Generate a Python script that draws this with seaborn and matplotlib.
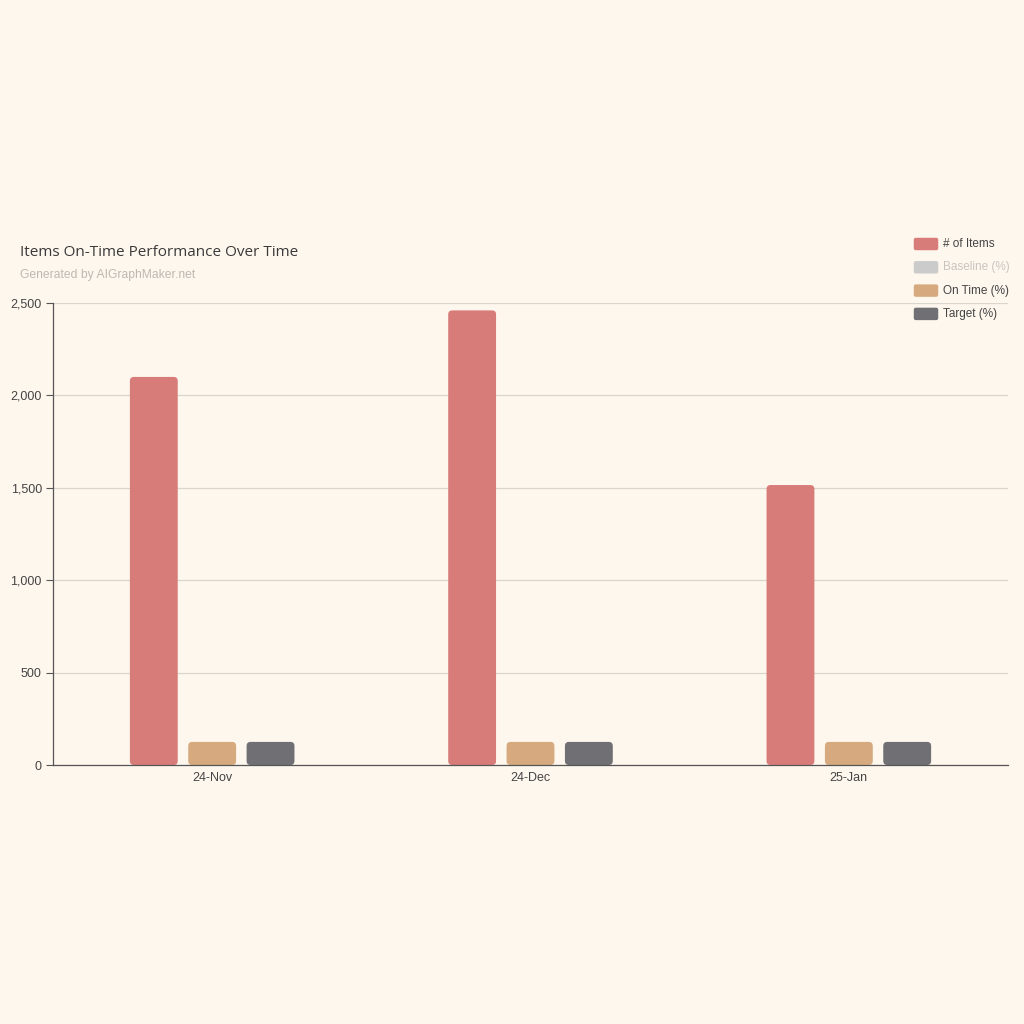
import matplotlib
matplotlib.use("Agg")
import matplotlib.pyplot as plt
from matplotlib.patches import FancyBboxPatch
import pandas as pd
import seaborn as sns

# data
months = ["24-Nov", "24-Dec", "25-Jan"]
n_items = [2100, 2460, 1515]
on_time = [125, 125, 125]
target = [125, 125, 125]

series_names = ["# of Items", "Baseline (%)", "On Time (%)", "Target (%)"]
series_colors = ["#D87C7A", "#CBCBCB", "#D6AA7E", "#6F6F74"]
hidden = ["Baseline (%)"]

bg = "#FEF7EE"

df = pd.DataFrame({
    "month": months * 3,
    "series": ["# of Items"] * 3 + ["On Time (%)"] * 3 + ["Target (%)"] * 3,
    "value": n_items + on_time + target,
})

sns.set_theme(style="white")
plt.rcParams["font.family"] = ["Liberation Sans", "DejaVu Sans"]

fig = plt.figure(figsize=(10.24, 10.24), dpi=100, facecolor=bg)
W = H = 1024.0
ax = fig.add_axes([53 / W, 1 - 765 / H, (1008 - 53) / W, (765 - 303) / H])
ax.set_facecolor(bg)

pal = {"# of Items": series_colors[0], "On Time (%)": series_colors[2],
       "Target (%)": series_colors[3]}
sns.barplot(data=df, x="month", y="value", hue="series", palette=pal,
            width=0.55, gap=0.18, legend=False, ax=ax, saturation=1)

# rounded corners
ax.set_xlim(-0.5, 2.5)
ax.set_ylim(0, 2500)
px_x = 1.0 / 318.3
px_y = 2500 / 462.0
rad = 4 * px_x
for p in list(ax.patches):
    x, y = p.get_x(), p.get_y()
    w, h = p.get_width(), p.get_height()
    fb = FancyBboxPatch((x + rad, y + rad * px_y / px_x), w - 2 * rad,
                        h - 2 * rad * px_y / px_x,
                        boxstyle="round,pad=%f,rounding_size=%f" % (rad, rad),
                        mutation_aspect=px_y / px_x,
                        facecolor=p.get_facecolor(), edgecolor="none",
                        zorder=2)
    p.remove()
    ax.add_patch(fb)

ax.set_yticks([0, 500, 1000, 1500, 2000, 2500])
ax.set_yticklabels(["0", "500", "1,000", "1,500", "2,000", "2,500"])
ax.yaxis.grid(True, color="#DAD5CD", linewidth=0.9)
ax.set_axisbelow(True)
ax.set_xticks([-0.5, 0.5, 1.5, 2.5])
ax.set_xticklabels([])
ax.set_xticks([0, 1, 2], minor=True)
ax.set_xticklabels(months, minor=True)
ax.tick_params(axis="x", which="major", length=5, color="#555555", width=0.8,
               direction="out")
ax.tick_params(axis="x", which="minor", length=0, pad=5, labelsize=9,
               labelcolor="#444444")
ax.tick_params(axis="y", length=5, color="#555555", width=0.8, pad=3,
               labelsize=9, labelcolor="#444444", left=True)
ax.set_xlabel("")
ax.set_ylabel("")
for s in ["top", "right"]:
    ax.spines[s].set_visible(False)
for s in ["left", "bottom"]:
    ax.spines[s].set_color("#555555")
    ax.spines[s].set_linewidth(0.9)

# title
fig.text(20 / W, 1 - 252 / H, "Items On-Time Performance Over Time",
         fontsize=11, color="#3A3A3A", va="center", ha="left",
         family=["Open Sans", "DejaVu Sans"])
fig.text(20 / W, 1 - 275 / H, "Generated by AIGraphMaker.net",
         fontsize=8.7, color="#BDB8B1", va="center", ha="left")

# legend
for i, (name, col) in enumerate(zip(series_names, series_colors)):
    yc = 244 + i * 23.3
    fig.patches.append(FancyBboxPatch(
        (915 / W, 1 - (yc + 5) / H), 22 / W, 10 / H,
        boxstyle="round,pad=0.0012,rounding_size=0.002",
        transform=fig.transFigure, facecolor=col, edgecolor="none"))
    fig.text(943 / W, 1 - yc / H, name, fontsize=8.5,
             color="#C8C4BF" if name in hidden else "#444444",
             va="center", ha="left")

fig.savefig("out.png", dpi=100, facecolor=bg)
